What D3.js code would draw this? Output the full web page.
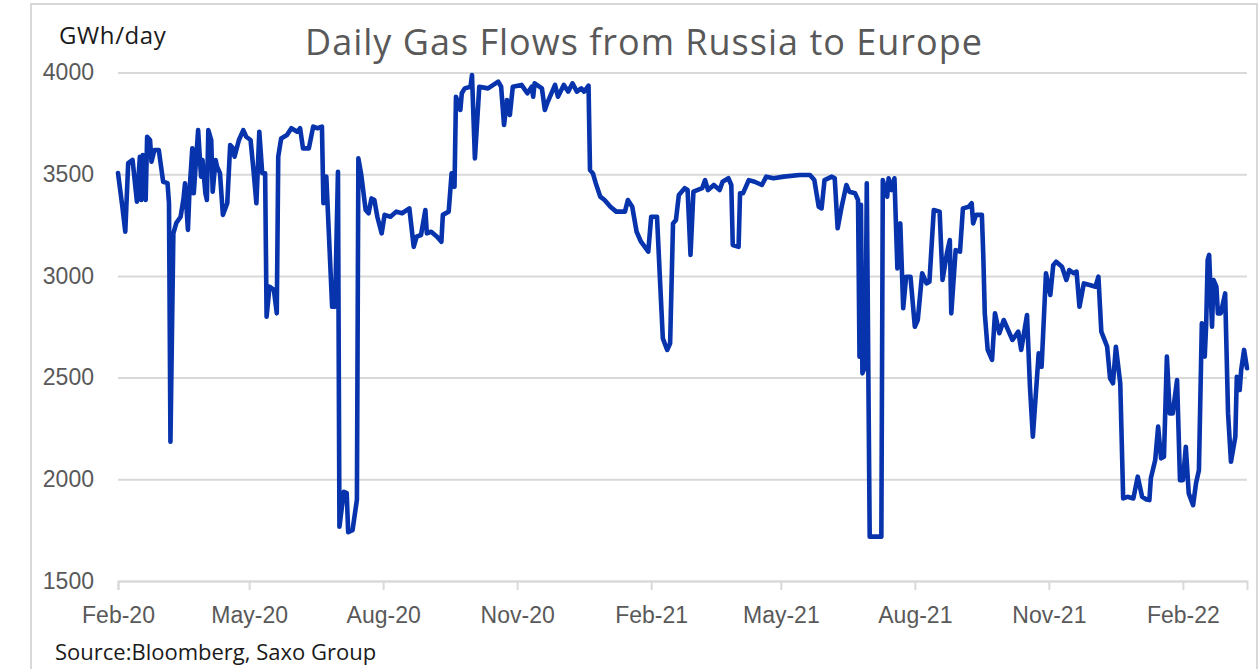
<!DOCTYPE html>
<html>
<head>
<meta charset="utf-8">
<script src="https://cdn.jsdelivr.net/npm/d3@7/dist/d3.min.js"></script>
<style>
  body { margin: 0; background: #fff; }
  svg { display: block; font-family: "Open Sans", sans-serif; }
</style>
</head>
<body>
<div id="main"></div>
<script>
// daily flows, GWh/day
const dates = [
  '2020-02-01','2020-02-04','2020-02-06','2020-02-08','2020-02-11','2020-02-14','2020-02-16','2020-02-17','2020-02-18','2020-02-20','2020-02-21','2020-02-23','2020-02-24','2020-02-26','2020-02-29',
  '2020-03-03','2020-03-06','2020-03-07','2020-03-08','2020-03-10','2020-03-12','2020-03-15','2020-03-17','2020-03-18','2020-03-20','2020-03-21','2020-03-23','2020-03-24','2020-03-27','2020-03-29','2020-03-30',
  '2020-04-01','2020-04-02','2020-04-03','2020-04-05','2020-04-06','2020-04-08','2020-04-09','2020-04-11','2020-04-13','2020-04-16','2020-04-18','2020-04-20','2020-04-21','2020-04-24','2020-04-27','2020-04-29',
  '2020-05-02','2020-05-04','2020-05-06','2020-05-08','2020-05-10','2020-05-12','2020-05-13','2020-05-15','2020-05-18','2020-05-20','2020-05-21','2020-05-23','2020-05-27','2020-05-30',
  '2020-06-03','2020-06-05','2020-06-07','2020-06-11','2020-06-14','2020-06-17','2020-06-20','2020-06-21','2020-06-23','2020-06-27','2020-06-29',
  '2020-07-01','2020-07-02','2020-07-05','2020-07-07','2020-07-08','2020-07-11','2020-07-14','2020-07-15','2020-07-17','2020-07-20','2020-07-22','2020-07-24','2020-07-26','2020-07-28','2020-07-31',
  '2020-08-02','2020-08-06','2020-08-10','2020-08-14','2020-08-19','2020-08-22','2020-08-24','2020-08-27','2020-08-30','2020-08-31',
  '2020-09-03','2020-09-07','2020-09-10','2020-09-11','2020-09-15','2020-09-17','2020-09-19','2020-09-20','2020-09-23','2020-09-24','2020-09-26','2020-09-30',
  '2020-10-01','2020-10-03','2020-10-06','2020-10-12','2020-10-19','2020-10-21','2020-10-23','2020-10-25','2020-10-27','2020-10-29',
  '2020-11-04','2020-11-08','2020-11-11','2020-11-12','2020-11-13','2020-11-18','2020-11-20','2020-11-22','2020-11-27','2020-11-29',
  '2020-12-03','2020-12-06','2020-12-09','2020-12-12','2020-12-15','2020-12-17','2020-12-20','2020-12-21','2020-12-23','2020-12-25','2020-12-28','2020-12-31',
  '2021-01-04','2021-01-08','2021-01-14','2021-01-16','2021-01-19','2021-01-22','2021-01-25','2021-01-30',
  '2021-02-01','2021-02-05','2021-02-07','2021-02-09','2021-02-12','2021-02-14','2021-02-16','2021-02-18','2021-02-20','2021-02-24','2021-02-26','2021-02-28',
  '2021-03-02','2021-03-08','2021-03-10','2021-03-12','2021-03-16','2021-03-20','2021-03-22','2021-03-26','2021-03-28','2021-03-29',
  '2021-04-02','2021-04-03','2021-04-05','2021-04-09','2021-04-13','2021-04-18','2021-04-21','2021-04-26',
  '2021-05-03','2021-05-14','2021-05-21','2021-05-24','2021-05-27','2021-05-29','2021-05-31',
  '2021-06-05','2021-06-07','2021-06-09','2021-06-12','2021-06-15','2021-06-17','2021-06-21','2021-06-23','2021-06-24','2021-06-25','2021-06-26','2021-06-28','2021-06-29',
  '2021-07-01','2021-07-09','2021-07-10','2021-07-13','2021-07-14','2021-07-16','2021-07-18','2021-07-20','2021-07-22','2021-07-24','2021-07-26','2021-07-29',
  '2021-08-01','2021-08-03','2021-08-06','2021-08-09','2021-08-11','2021-08-14','2021-08-18','2021-08-20','2021-08-23','2021-08-25','2021-08-26','2021-08-29',
  '2021-09-01','2021-09-03','2021-09-07','2021-09-09','2021-09-10','2021-09-12','2021-09-16','2021-09-17','2021-09-18','2021-09-20','2021-09-23','2021-09-25','2021-09-28',
  '2021-10-01','2021-10-04','2021-10-07','2021-10-11','2021-10-13','2021-10-17','2021-10-19','2021-10-21','2021-10-25','2021-10-27','2021-10-30',
  '2021-11-02','2021-11-04','2021-11-06','2021-11-10','2021-11-13','2021-11-15','2021-11-18','2021-11-20','2021-11-22','2021-11-25','2021-11-29',
  '2021-12-03','2021-12-05','2021-12-07','2021-12-11','2021-12-13','2021-12-15','2021-12-17','2021-12-20','2021-12-22','2021-12-25','2021-12-29',
  '2022-01-01','2022-01-04','2022-01-07','2022-01-09','2022-01-10','2022-01-13','2022-01-15','2022-01-17','2022-01-19','2022-01-21','2022-01-23','2022-01-25','2022-01-28','2022-01-30',
  '2022-02-01','2022-02-03','2022-02-05','2022-02-08','2022-02-10','2022-02-12','2022-02-14','2022-02-16','2022-02-17','2022-02-18','2022-02-19','2022-02-21','2022-02-22','2022-02-24','2022-02-25','2022-02-27',
  '2022-03-02','2022-03-04','2022-03-06','2022-03-09','2022-03-10','2022-03-12','2022-03-13','2022-03-15','2022-03-17'
];

const flows = [
  3506,3340,3217,3555,3570,3365,3586,3373,3594,3373,3684,3668,3561,3619,3619,
  3463,3456,3358,2185,3209,3260,3291,3381,3455,3226,3406,3627,3406,3717,3488,3570,
  3406,3373,3717,3668,3414,3570,3537,3505,3300,3357,3643,3627,3586,3668,3717,3684,
  3668,3521,3357,3709,3505,3505,2799,2947,2931,2816,3586,3676,3693,3726,
  3709,3726,3627,3627,3734,3726,3734,3357,3488,2848,2848,
  3512,1767,1939,1932,1740,1750,1900,3578,3496,3324,3308,3381,3373,3291,3209,
  3300,3291,3316,3308,3332,3143,3193,3201,3324,3209,
  3217,3193,3168,3300,3316,3504,3438,3881,3816,3898,3922,3930,
  3988,3578,3930,3922,3955,3930,3742,3865,3791,3930,
  3939,3898,3930,3881,3947,3922,3816,3856,3939,3881,
  3939,3906,3947,3906,3922,3906,3935,3521,3504,3455,3390,3373,
  3340,3316,3316,3373,3340,3217,3168,3119,
  3291,3291,2988,2693,2636,2668,3258,3275,3398,3431,3422,3103,
  3414,3431,3471,3422,3447,3422,3463,3480,3447,3152,
  3143,3406,3406,3471,3463,3447,3488,3480,
  3488,3496,3496,3471,3340,3332,3471,
  3488,3480,3234,3349,3447,3414,3406,3373,2603,3350,2521,2560,3455,
  1718,1718,3471,3389,3480,3422,3480,3037,3258,2841,2996,2996,
  2750,2783,3013,2963,2971,3324,3316,2980,3111,3176,2816,3127,
  3119,3332,3340,3357,3258,3300,3300,3094,2816,2636,2587,2816,2718,
  2783,2734,2685,2726,2636,2808,2455,2210,2619,2553,3013,
  2906,3053,3070,3045,2980,3029,3013,3021,2848,2963,2955,
  2947,2996,2726,2652,2496,2472,2652,2472,1906,1914,1906,
  2013,1914,1901,1898,2005,2095,2259,2103,2111,2603,2324,2324,2488,1996,
  1996,2160,1931,1873,1980,2045,2767,2603,2767,3078,3103,2750,2980,2947,2816,2816,
  2914,2324,2086,2210,2504,2439,2537,2636,2546
];

const yTicks = [1500, 2000, 2500, 3000, 3500, 4000];
const xTickLabels = ['Feb-20', 'May-20', 'Aug-20', 'Nov-20', 'Feb-21', 'May-21', 'Aug-21', 'Nov-21', 'Feb-22'];

const width = 1260, height = 669;
const plotLeft = 118, plotRight = 1247, plotTop = 72.5, plotBottom = 581;

const parseDay = d3.timeParse('%Y-%m-%d');
const parseTick = d3.timeParse('%b-%y');

const data = dates.map((d, i) => ({ date: parseDay(d), value: flows[i] }));

const x = d3.scaleTime()
  .domain(d3.extent(data, d => d.date))
  .range([plotLeft, plotRight]);

const y = d3.scaleLinear()
  .domain([1500, 4000])
  .range([plotBottom, plotTop]);

const svg = d3.select('#main').append('svg')
  .attr('width', width).attr('height', height);

// outer frame
svg.append('rect')
  .attr('x', 31).attr('y', 4).attr('width', 1226).attr('height', 700)
  .attr('fill', '#fff').attr('stroke', '#d9d9d9').attr('stroke-width', 2);

// gridlines + y labels
const yAxis = d3.axisLeft(y).tickValues(yTicks)
  .tickFormat(d3.format('d'))
  .tickSize(-(plotRight - plotLeft)).tickPadding(24);

svg.append('g')
  .attr('transform', `translate(${plotLeft},0)`)
  .call(yAxis)
  .call(g => g.select('.domain').remove())
  .call(g => g.selectAll('line').attr('stroke', '#d9d9d9').attr('stroke-width', 2))
  .call(g => g.selectAll('text').attr('fill', '#595959').style('font-size', '23px'));

// x axis
const xAxis = d3.axisBottom(x)
  .tickValues(xTickLabels.map(parseTick))
  .tickFormat(d3.timeFormat('%b-%y'))
  .tickSize(9).tickPadding(17);

svg.append('g')
  .attr('transform', `translate(0,${plotBottom})`)
  .call(xAxis)
  .call(g => g.select('.domain').attr('stroke', '#d9d9d9').attr('stroke-width', 2))
  .call(g => g.selectAll('line').attr('stroke', '#d9d9d9').attr('stroke-width', 2))
  .call(g => g.selectAll('text').attr('fill', '#595959').style('font-size', '23px'));

const line = d3.line()
  .x(d => x(d.date))
  .y(d => y(d.value));

svg.append('path')
  .datum(data)
  .attr('d', line)
  .attr('fill', 'none')
  .attr('stroke', '#0733ad')
  .attr('stroke-width', 4.6)
  .attr('stroke-linejoin', 'round')
  .attr('stroke-linecap', 'round');

svg.append('text')
  .attr('x', 644).attr('y', 55)
  .attr('text-anchor', 'middle')
  .attr('fill', '#595959')
  .style('font-size', '36px')
  .style('letter-spacing', '1px')
  .text('Daily Gas Flows from Russia to Europe');

svg.append('text')
  .attr('x', 59).attr('y', 44)
  .attr('fill', '#1a1a1a')
  .style('font-size', '24px')
  .style('letter-spacing', '0.6px')
  .text('GWh/day');

svg.append('text')
  .attr('x', 55).attr('y', 660)
  .attr('fill', '#1a1a1a')
  .style('font-size', '22px')
  .text('Source:Bloomberg, Saxo Group');
</script>
</body>
</html>
